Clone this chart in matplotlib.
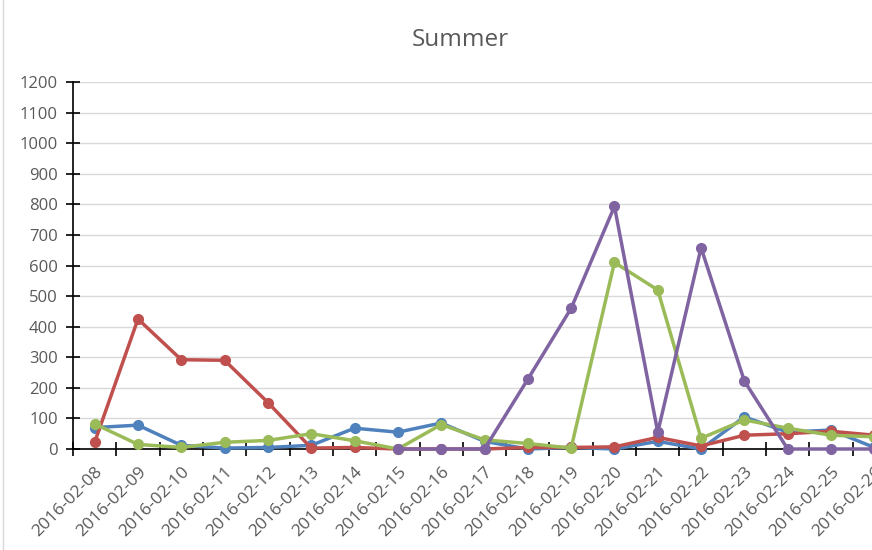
import numpy as np
import matplotlib.pyplot as plt
from matplotlib.lines import Line2D

dates = ['2016-02-08', '2016-02-09', '2016-02-10', '2016-02-11', '2016-02-12',
         '2016-02-13', '2016-02-14', '2016-02-15', '2016-02-16', '2016-02-17',
         '2016-02-18', '2016-02-19', '2016-02-20', '2016-02-21', '2016-02-22',
         '2016-02-23', '2016-02-24', '2016-02-25', '2016-02-26']

blue = [70, 78, 12, 3, 5, 12, 68, 55, 85, 25, 0, 5, 0, 25, 0, 105, 55, 62, 5]
red = [22, 425, 292, 290, 152, 3, 5, 0, 0, 0, 5, 5, 7, 38, 10, 45, 50, 58, 45]
green = [82, 15, 5, 22, 28, 50, 27, 0, 80, 30, 18, 3, 610, 520, 35, 95, 68, 45, 40]
purple = [None, None, None, None, None, None, None, 0, 0, 0, 228, 460, 793, 55,
          658, 222, 0, 0, 0]

series = [(blue, '#4F81BD'), (red, '#C0504D'), (green, '#9BBB59'), (purple, '#8064A2')]

plt.rcParams['font.family'] = ['Open Sans', 'DejaVu Sans']

fig = plt.figure(figsize=(8.72, 5.5), dpi=100)
# plot area runs past the right edge of the picture, like the cropped original
ax = fig.add_axes([73 / 872, 1 - 449 / 550, (896 - 73) / 872, (449 - 82) / 550])

x = np.arange(len(dates))
for vals, col in series:
    y = np.array([np.nan if v is None else v for v in vals], dtype=float)
    ax.plot(x, y, color=col, lw=2.5, marker='o', markersize=7, clip_on=False, zorder=3)

ax.set_yticks(np.arange(0, 1201, 100))
ax.yaxis.grid(True, color='#D9D9D9', lw=1)
ax.set_axisbelow(True)

ax.set_xticks(x)
ax.set_xticklabels(dates, rotation=45, ha='right', rotation_mode='anchor')
ax.set_xticks(np.arange(-0.5, len(dates), 1), minor=True)
ax.tick_params(axis='x', which='major', length=0, pad=11, labelsize=12.5, labelcolor='#595959')
ax.tick_params(axis='x', which='minor', direction='inout', length=10, width=1.2, color='black')
ax.tick_params(axis='y', direction='inout', length=10, width=1.2, color='black',
               labelsize=12, labelcolor='#595959', pad=6)

# limits set after the ticks so the tick calls don't widen them
ax.set_xlim(-0.5, 18.5)
ax.set_ylim(0, 1200)

for s in ['top', 'right']:
    ax.spines[s].set_visible(False)
for s in ['left', 'bottom']:
    ax.spines[s].set_color('black')
    ax.spines[s].set_linewidth(1.2)

fig.text(460 / 872, 1 - 40 / 550, 'Summer', ha='center', va='center',
         fontsize=17.5, color='#595959')
fig.add_artist(Line2D([3 / 872, 3 / 872], [0, 1], color='#D9D9D9', lw=1,
                      transform=fig.transFigure))

fig.savefig('out.png', dpi=100)
